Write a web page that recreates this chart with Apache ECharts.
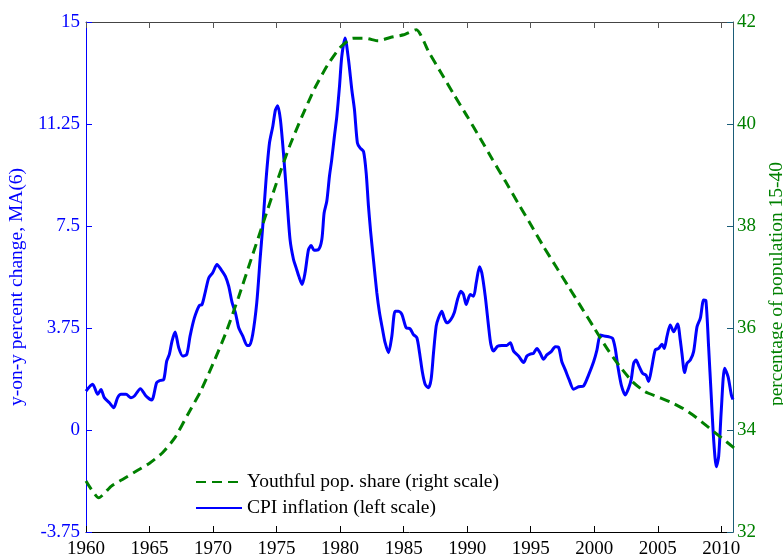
<!DOCTYPE html>
<html>
<head>
<meta charset="utf-8">
<script src="https://cdn.jsdelivr.net/npm/echarts@6/dist/echarts.min.js"></script>
<style>
  html, body { margin: 0; padding: 0; background: #fff; }
  #chart { width: 783px; height: 556px; }
</style>
</head>
<body>
<div id="chart"></div>
<script>
// CPI inflation, y-on-y percent change, MA(6) (left scale)
const cpiYears = [
  1960.0, 1960.52, 1960.92, 1961.18, 1961.44, 1961.84, 1962.18, 1962.49, 1962.76, 1963.15,
  1963.54, 1963.81, 1964.28, 1964.72, 1965.17, 1965.56, 1965.83, 1966.12, 1966.35, 1966.56,
  1966.77, 1967.01, 1967.3, 1967.61, 1967.93, 1968.19, 1968.53, 1968.92, 1969.13, 1969.4,
  1969.66, 1969.97, 1970.31, 1970.63, 1970.97, 1971.23, 1971.5, 1971.76, 1972.02, 1972.34,
  1972.68, 1972.86, 1973.12, 1973.44, 1973.7, 1973.91, 1974.17, 1974.44, 1974.7, 1974.91,
  1975.09, 1975.3, 1975.54, 1975.8, 1976.06, 1976.33, 1976.54, 1976.75, 1977.01, 1977.24,
  1977.51, 1977.72, 1977.95, 1978.29, 1978.56, 1978.74, 1978.95, 1979.16, 1979.34, 1979.55,
  1979.74, 1979.95, 1980.13, 1980.39, 1980.66, 1980.92, 1981.13, 1981.36, 1981.57, 1981.84,
  1982.05, 1982.23, 1982.41, 1982.62, 1982.89, 1983.1, 1983.36, 1983.54, 1983.81, 1984.07,
  1984.33, 1984.59, 1984.86, 1985.2, 1985.51, 1985.77, 1986.04, 1986.25, 1986.48, 1986.69,
  1986.95, 1987.16, 1987.35, 1987.56, 1987.74, 1988.0, 1988.19, 1988.4, 1988.71, 1988.98,
  1989.24, 1989.5, 1989.71, 1989.92, 1990.24, 1990.5, 1990.71, 1990.97, 1991.15, 1991.42,
  1991.68, 1991.86, 1992.07, 1992.39, 1992.73, 1993.12, 1993.39, 1993.65, 1994.04, 1994.44,
  1994.7, 1994.96, 1995.22, 1995.49, 1995.75, 1996.01, 1996.27, 1996.61, 1996.93, 1997.19,
  1997.45, 1997.72, 1998.03, 1998.37, 1998.77, 1999.16, 1999.55, 1999.95, 2000.21, 2000.47,
  2000.74, 2001.13, 2001.44, 2001.65, 2001.86, 2002.13, 2002.44, 2002.7, 2002.91, 2003.1,
  2003.28, 2003.54, 2003.81, 2004.07, 2004.28, 2004.54, 2004.8, 2005.07, 2005.33, 2005.51,
  2005.72, 2005.98, 2006.25, 2006.56, 2006.77, 2006.9, 2007.11, 2007.3, 2007.56, 2007.82,
  2008.09, 2008.35, 2008.61, 2008.79, 2009.0, 2009.21, 2009.4, 2009.61, 2009.79, 2010.0,
  2010.26, 2010.53, 2010.79, 2010.92
];
const cpiValues = [
  1.43, 1.68, 1.31, 1.49, 1.19, 1.0, 0.82, 1.19, 1.31, 1.31,
  1.19, 1.25, 1.52, 1.25, 1.1, 1.74, 1.82, 1.86, 2.53, 2.78,
  3.27, 3.6, 3.02, 2.72, 2.78, 3.45, 4.12, 4.58, 4.61, 5.1,
  5.59, 5.78, 6.08, 5.9, 5.65, 5.29, 4.68, 4.31, 3.76, 3.45,
  3.11, 3.11, 3.51, 4.68, 6.27, 7.49, 9.2, 10.55, 11.16, 11.77,
  11.92, 11.41, 10.18, 8.59, 7.0, 6.27, 5.96, 5.65, 5.35, 5.78,
  6.63, 6.78, 6.61, 6.63, 7.0, 7.98, 8.41, 9.33, 9.94, 10.8,
  11.53, 12.63, 13.73, 14.41, 13.61, 12.51, 11.77, 10.55, 10.37, 10.24,
  9.45, 8.23, 7.25, 6.27, 5.04, 4.31, 3.64, 3.21, 2.84, 3.45,
  4.37, 4.37, 4.25, 3.76, 3.72, 3.51, 3.39, 2.84, 2.11, 1.68,
  1.55, 1.86, 2.84, 3.82, 4.12, 4.37, 4.12, 3.94, 4.06, 4.31,
  4.8, 5.1, 4.98, 4.61, 4.98, 4.92, 5.41, 6.0, 5.78, 4.92,
  3.82, 3.15, 2.9, 3.08, 3.11, 3.11, 3.21, 2.9, 2.72, 2.48,
  2.72, 2.79, 2.82, 3.0, 2.82, 2.6, 2.76, 2.88, 3.06, 3.04,
  2.51, 2.21, 1.84, 1.5, 1.59, 1.62, 2.02, 2.51, 2.94, 3.49,
  3.46, 3.43, 3.37, 3.0, 2.33, 1.65, 1.29, 1.53, 1.86, 2.45,
  2.57, 2.33, 2.08, 2.02, 1.78, 2.33, 2.94, 3.0, 3.15, 3.0,
  3.43, 3.86, 3.61, 3.9, 3.31, 2.82, 2.11, 2.45, 2.57, 2.88,
  3.8, 4.11, 4.78, 4.75, 3.06, 1.23, -0.37, -1.35, -0.98, 0.74,
  2.27, 1.96, 1.29, 1.12
];

// Youthful population share, percentage of population 15-40 (right scale)
const popYears = [
  1960, 1961, 1962, 1963, 1964, 1965, 1966, 1967, 1968, 1969,
  1970, 1971, 1972, 1973, 1974, 1975, 1976, 1977, 1978, 1979,
  1980, 1981, 1982, 1983, 1984, 1985, 1986, 1987, 1988, 1989,
  1990, 1991, 1992, 1993, 1994, 1995, 1996, 1997, 1998, 1999,
  2000, 2001, 2002, 2003, 2004, 2005, 2006, 2007, 2008, 2009,
  2010, 2011
];
const popValues = [
  33.0, 32.67, 32.9, 33.05, 33.2, 33.35, 33.55, 33.85, 34.3, 34.75,
  35.3, 35.9, 36.6, 37.35, 38.1, 38.85, 39.55, 40.15, 40.7, 41.15,
  41.5, 41.68, 41.68, 41.63, 41.7, 41.75, 41.85, 41.4, 40.98, 40.56,
  40.15, 39.73, 39.3, 38.88, 38.45, 38.03, 37.6, 37.2, 36.8, 36.4,
  36.0, 35.6, 35.25, 34.95, 34.75, 34.65, 34.55, 34.42, 34.25, 34.05,
  33.85, 33.65
];

const leftTicks = ['-3.75', '0', '3.75', '7.5', '11.25', '15'];
const rightTicks = ['32', '34', '36', '38', '40', '42'];

const FONT = 'Liberation Serif';
const BLUE = '#0000ff';
const GREEN = '#008000';

const chart = echarts.init(document.getElementById('chart'));

const option = {
  animation: false,
  backgroundColor: '#fff',
  grid: { left: 86, right: 50, top: 22, bottom: 24, containLabel: false, outerBoundsMode: 'none' },
  legend: {
    orient: 'vertical',
    left: 190,
    top: 467,
    itemWidth: 46,
    itemHeight: 14,
    itemGap: 6,
    itemStyle: { opacity: 0 },
    textStyle: { fontFamily: FONT, fontSize: 19.5, color: '#000' },
    data: ['Youthful pop. share (right scale)', 'CPI inflation (left scale)']
  },
  xAxis: [
    {
      type: 'value',
      position: 'bottom',
      min: 1960,
      max: 2010.92,
      interval: 5,
      splitLine: { show: false },
      axisLine: { onZero: false, lineStyle: { color: '#000', width: 1 } },
      axisTick: { inside: true, length: 6, lineStyle: { color: '#000' } },
      axisLabel: {
        showMaxLabel: false,
        margin: 8,
        fontFamily: FONT,
        fontSize: 19,
        color: '#000',
        formatter: v => (Math.abs(v % 5) < 1e-6 ? String(v) : '')
      }
    },
    {
      type: 'value',
      position: 'top',
      min: 1960,
      max: 2010.92,
      interval: 5,
      splitLine: { show: false },
      axisLine: { onZero: false, lineStyle: { color: '#444', width: 1 } },
      axisTick: { inside: true, length: 6, lineStyle: { color: '#555' } },
      axisLabel: { show: false }
    }
  ],
  yAxis: [
    {
      type: 'value',
      position: 'left',
      min: -3.75,
      max: 15,
      interval: 3.75,
      splitLine: { show: false },
      axisLine: { show: true, onZero: false, lineStyle: { color: BLUE, width: 1 } },
      axisTick: { show: true, inside: true, length: 6, lineStyle: { color: BLUE } },
      axisLabel: {
        margin: 6,
        fontFamily: FONT,
        fontSize: 19,
        color: BLUE,
        formatter: (v, i) => leftTicks[i]
      },
      name: 'y-on-y percent change, MA(6)',
      nameLocation: 'middle',
      nameRotate: 90,
      nameGap: 54,
      nameTextStyle: { fontFamily: FONT, fontSize: 19.5, color: BLUE, padding: [0, 20, 0, 0] }
    },
    {
      type: 'value',
      position: 'right',
      min: 32,
      max: 42,
      interval: 2,
      splitLine: { show: false },
      axisLine: { show: true, onZero: false, lineStyle: { color: '#1a5c78', width: 1 } },
      axisTick: { show: true, inside: true, length: 6, lineStyle: { color: '#1a5c78' } },
      axisLabel: {
        margin: 4,
        fontFamily: FONT,
        fontSize: 19,
        color: GREEN,
        formatter: (v, i) => rightTicks[i]
      },
      name: 'percentage of population 15-40',
      nameLocation: 'middle',
      nameRotate: 90,
      nameGap: 33,
      nameTextStyle: { fontFamily: FONT, fontSize: 19.5, color: GREEN, padding: [0, 14, 0, 0] }
    }
  ],
  series: [
    {
      name: 'CPI inflation (left scale)',
      type: 'line',
      xAxisIndex: 0,
      yAxisIndex: 0,
      symbol: 'none',
      smooth: 0.25,
      z: 2,
      color: BLUE,
      lineStyle: { color: BLUE, width: 3 },
      data: cpiYears.map((y, i) => [y, cpiValues[i]])
    },
    {
      name: 'Youthful pop. share (right scale)',
      type: 'line',
      xAxisIndex: 0,
      yAxisIndex: 1,
      symbol: 'none',
      smooth: 0.2,
      z: 3,
      color: GREEN,
      lineStyle: { color: GREEN, width: 3, type: [10, 6] },
      data: popYears.map((y, i) => [y, popValues[i]])
    }
  ]
};

chart.setOption(option);
</script>
</body>
</html>
